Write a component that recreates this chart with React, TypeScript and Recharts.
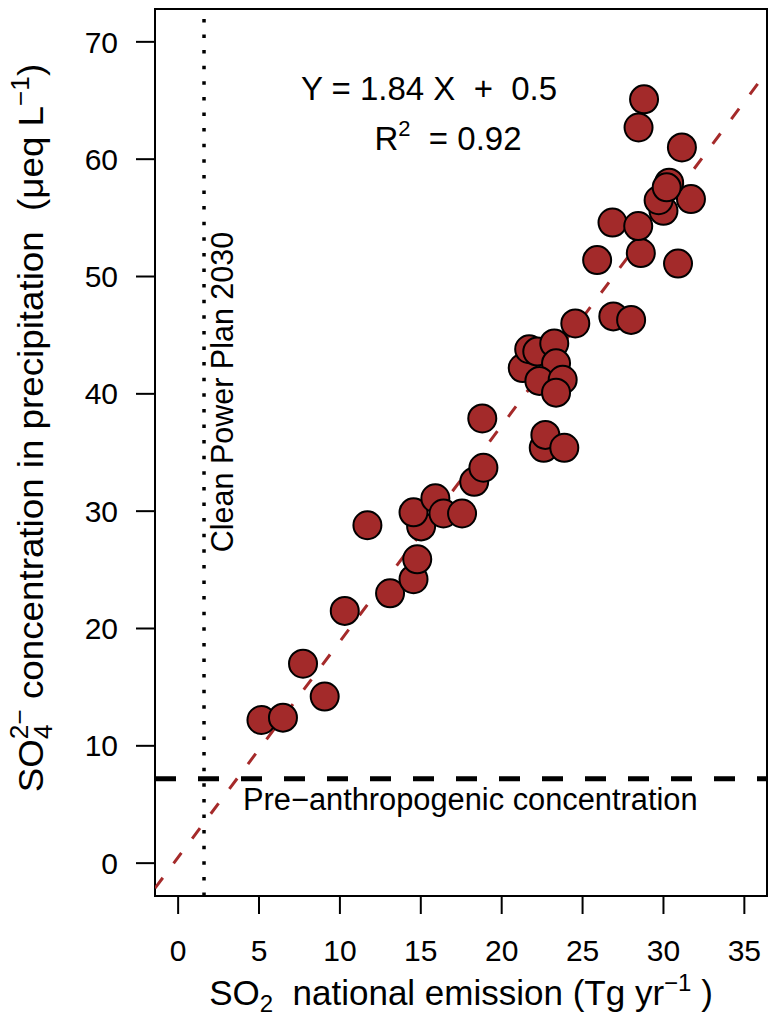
import {
  ScatterChart,
  Scatter,
  XAxis,
  YAxis,
  ReferenceLine,
  ReferenceArea,
  Label,
} from 'recharts'

// SO2 national emission (Tg/yr) vs SO4 concentration (ueq/L), one entry per year
const emission = [
  5.15, 6.48, 7.72, 9.06, 10.3, 11.7, 13.1, 14.55, 14.78, 15.02, 14.55, 15.9,
  16.4, 17.55, 18.3, 18.87, 18.8, 22.6, 22.7, 23.87, 21.3, 21.7, 22.2, 23.25,
  23.36, 22.33, 23.77, 23.36, 24.55, 26.9, 28.0, 25.9, 30.9, 28.6, 26.85, 28.44,
  30.0, 29.7, 31.7, 30.35, 30.2, 31.14, 28.46, 28.8,
]
const concentration = [
  12.2, 12.4, 17.0, 14.2, 21.5, 28.8, 23.0, 24.2, 25.9, 28.7, 29.9, 31.1,
  29.8, 29.8, 32.5, 33.7, 37.9, 35.4, 36.5, 35.4, 42.2, 43.8, 43.6, 44.3,
  42.6, 41.1, 41.2, 40.1, 46.0, 46.6, 46.3, 51.4, 51.1, 52.0, 54.6, 54.3,
  55.6, 56.5, 56.6, 58.0, 57.6, 61.0, 62.7, 65.1,
]

const xTicks = [0, 5, 10, 15, 20, 25, 30, 35]
const yTicks = [0, 10, 20, 30, 40, 50, 60, 70]
const xDomain = [-1.43, 36.4]
const yDomain = [-2.8, 72.8]

// fitted regression and reference levels
const slope = 1.84
const intercept = 0.5
const cleanPowerPlan2030 = 1.6
const preAnthropogenic = 7.2

const points = emission.map((x, i) => ({ x, y: concentration[i] }))
const fitLine = xDomain.map((x) => ({ x, y: slope * x + intercept }))

const FONT = "'Liberation Sans', Arial, sans-serif"
const BROWN = '#a52a2a'
const NB = '\u00a0'

function Dot(props: any) {
  const { cx, cy } = props
  if (cx == null || cy == null) return null
  return <circle cx={cx} cy={cy} r={14} fill="#a32a2a" stroke="#000" strokeWidth={2} />
}

function XTitle() {
  return (
    <text x={461} y={1005} textAnchor="middle" fontSize={35} fontFamily={FONT} fill="#000">
      SO<tspan dy={7} fontSize={24}>2</tspan>
      <tspan dy={-7}>{`${NB}${NB}national emission (Tg yr`}</tspan>
      <tspan dy={-14} fontSize={24}>−1</tspan>
      <tspan dy={14}>{`${NB})`}</tspan>
    </text>
  )
}

function YTitle() {
  return (
    <text
      transform="translate(43, 428) rotate(-90) scale(1.05, 1)"
      textAnchor="middle"
      fontSize={35}
      fontFamily={FONT}
      fill="#000"
    >
      SO<tspan dy={9} fontSize={25}>4</tspan>
      <tspan dx={-14} dy={-24} fontSize={25}>2−</tspan>
      <tspan dy={15}>{`${NB}concentration in precipitation${NB}${NB}(μeq L`}</tspan>
      <tspan dy={-14} fontSize={25}>−1</tspan>
      <tspan dy={14}>)</tspan>
    </text>
  )
}

function Equation() {
  return (
    <g fontFamily={FONT} fill="#000">
      <text x={429} y={100} textAnchor="middle" fontSize={33}>
        {`Y = 1.84 X${NB}${NB}+${NB}${NB}0.5`}
      </text>
      <text x={448} y={150} textAnchor="middle" fontSize={33}>
        R<tspan dy={-14} fontSize={22}>2</tspan>
        <tspan dy={14}>{`${NB}${NB}= 0.92`}</tspan>
      </text>
    </g>
  )
}

function CppLabel() {
  return (
    <text
      transform="translate(233, 392) rotate(-90)"
      textAnchor="middle"
      fontSize={30.5}
      fontFamily={FONT}
      fill="#000"
    >
      Clean Power Plan 2030
    </text>
  )
}

function PreLabel() {
  return (
    <text x={243} y={810} fontSize={30.8} fontFamily={FONT} fill="#000">
      Pre−anthropogenic concentration
    </text>
  )
}

export default function App() {
  return (
    <div style={{ position: 'absolute', left: 0, top: 0, background: '#fff' }}>
      <ScatterChart
        width={770}
        height={1016}
        margin={{ top: 9, right: 3, bottom: 0, left: 0 }}
      >
        <XAxis
          type="number"
          dataKey="x"
          domain={xDomain}
          ticks={xTicks}
          allowDataOverflow
          height={120}
          tickSize={18}
          tickMargin={26}
          axisLine={false}
          tickLine={{ stroke: '#000', strokeWidth: 2 }}
          tick={{ fill: '#000', fontSize: 30, fontFamily: FONT }}
        >
          <Label content={() => <XTitle />} />
        </XAxis>
        <YAxis
          type="number"
          dataKey="y"
          domain={yDomain}
          ticks={yTicks}
          allowDataOverflow
          width={155}
          tickSize={19}
          tickMargin={18}
          axisLine={false}
          tickLine={{ stroke: '#000', strokeWidth: 2 }}
          tick={{ fill: '#000', fontSize: 30, fontFamily: FONT }}
        >
          <Label content={() => <YTitle />} />
        </YAxis>
        <ReferenceLine
          x={cleanPowerPlan2030}
          stroke="#000"
          strokeWidth={3.5}
          strokeDasharray="3.5 12.1"
        >
          <Label content={() => <CppLabel />} />
        </ReferenceLine>
        <ReferenceLine
          y={preAnthropogenic}
          stroke="#000"
          strokeWidth={5}
          strokeDasharray="21 22"
        >
          <Label content={() => <PreLabel />} />
        </ReferenceLine>
        <Scatter
          data={fitLine}
          line={{ stroke: BROWN, strokeWidth: 3, strokeDasharray: '13 18' }}
          shape={() => <g />}
          isAnimationActive={false}
        />
        <Scatter data={points} shape={<Dot />} isAnimationActive={false} />
        <ReferenceArea
          x1={xDomain[0]}
          x2={xDomain[1]}
          y1={yDomain[0]}
          y2={yDomain[1]}
          fill="none"
          fillOpacity={0}
          stroke="#000"
          strokeWidth={2}
        >
          <Label content={() => <Equation />} />
        </ReferenceArea>
      </ScatterChart>
    </div>
  )
}
